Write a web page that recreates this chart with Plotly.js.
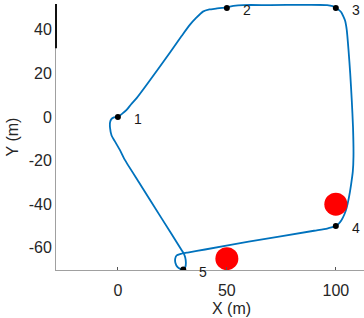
<!DOCTYPE html>
<html>
<head>
<meta charset="utf-8">
<script src="https://cdn.plot.ly/plotly-3.0.1.min.js"></script>
<style>
html,body{margin:0;padding:0;overflow:hidden;background:#fff;width:364px;height:318px;}
#chart{width:420px;height:318px;}
</style>
</head>
<body>
<div id="chart"></div>
<script>
// Trajectory (X, Y in metres)
const pathX = [0, 2, 4, 6, 8.6, 19.3, 29.3, 33, 36, 39, 42, 45, 50,
  53, 57.5, 70, 85, 96, 98.5, 100,
  101.5, 102.5, 103.5, 104.3, 105, 105.8, 106.6, 107.3, 107.9, 108.1, 107.8, 107, 106, 105, 104, 102.5, 101, 100,
  98, 96, 90, 60, 40, 32, 28.5, 27, 26.3, 26.4, 27.3, 28.6, 30, 30.9, 31.2, 30.9, 30.2, 29.2,
  20, 10, 3.2, 0.9, -1.5, -2.9, -3.6, -3.6, -3, -1.8, 0];
const pathY = [0, 1.5, 3.2, 5.7, 8.6, 23.1, 37.2, 42.2, 45.5, 48.3, 49.3, 49.7, 50.3,
  50.9, 51.3, 51.3, 51.4, 51.3, 50.8, 50,
  49, 48, 46, 44, 40, 31, 20, 8, -5, -18, -25, -31, -37, -41.5, -44.5, -47.5, -49.3, -50,
  -50.7, -51.2, -52.2, -57.2, -60.8, -62.2, -62.9, -63.5, -65, -67, -68.8, -69.7, -69.9, -69, -67, -64.5, -62.6, -61,
  -46.4, -30.5, -19.7, -15.1, -11, -8.5, -5, -2.5, -1, -0.2, 0];

// Waypoints
const wpX = [0, 50, 100, 100, 30];
const wpY = [0, 50, 50, -50, -70];
const wpLabels = ["1", "2", "3", "4", "5"];

// Obstacles
const obsX = [50, 100];
const obsY = [-65, -40];

const xTicks = [0, 50, 100];
const yTicks = [-60, -40, -20, 0, 20, 40];

const traces = [
  {x: pathX, y: pathY, mode: 'lines', type: 'scatter',
   line: {color: '#0072BD', width: 1.8, shape: 'spline', smoothing: 0.6}, hoverinfo: 'skip'},
  {x: wpX, y: wpY, mode: 'markers', type: 'scatter',
   marker: {color: '#000', size: 6}},
  {x: obsX, y: obsY, mode: 'markers', type: 'scatter',
   marker: {color: '#ff0000', size: 23}}
];

const labelFont = {family: 'Liberation Sans, Arial, sans-serif', size: 14, color: '#1a1a1a'};
const annotations = wpLabels.map((t, i) => ({
  x: wpX[i], y: wpY[i], xref: 'x', yref: 'y', text: t, showarrow: false,
  xanchor: 'left', yanchor: 'middle', xshift: 14, yshift: -2, font: labelFont
}));
annotations.push({
  x: 0.5, y: 0, xref: 'paper', yref: 'paper', text: 'X (m)', showarrow: false,
  xanchor: 'center', yanchor: 'top', yshift: -28,
  font: {family: 'Liberation Sans, Arial, sans-serif', size: 16, color: '#262626'}
});

const layout = {
  width: 420, height: 318,
  margin: {l: 56, r: 14, t: 4, b: 48},
  paper_bgcolor: '#fff', plot_bgcolor: '#fff',
  showlegend: false,
  font: {family: 'Liberation Sans, Arial, sans-serif', size: 16, color: '#262626'},
  xaxis: {
    range: [-28.4, 132.2], tickvals: xTicks, ticktext: xTicks.map(String),
    showgrid: false, zeroline: false, showline: true, linecolor: '#a0a0a0', linewidth: 1,
    ticks: 'inside', ticklen: 3, tickcolor: '#555', tickwidth: 1,
    ticklabelstandoff: 6,
    tickfont: {size: 16, color: '#262626'}
  },
  yaxis: {
    range: [-70.2, 51.8], tickvals: yTicks, ticktext: yTicks.map(String),
    showgrid: false, zeroline: false, showline: true, linecolor: '#a0a0a0', linewidth: 1,
    ticks: '', tickfont: {size: 16, color: '#262626'},
    title: {text: 'Y (m)', font: {size: 16, color: '#262626'}, standoff: 6}
  },
  shapes: [
    {type: 'line', xref: 'paper', yref: 'y', x0: 0, x1: 0, y0: 31.5, y1: 51.8,
     line: {color: '#111', width: 2}}
  ],
  annotations: annotations
};

Plotly.newPlot('chart', traces, layout, {displayModeBar: false, staticPlot: true});
</script>
</body>
</html>
